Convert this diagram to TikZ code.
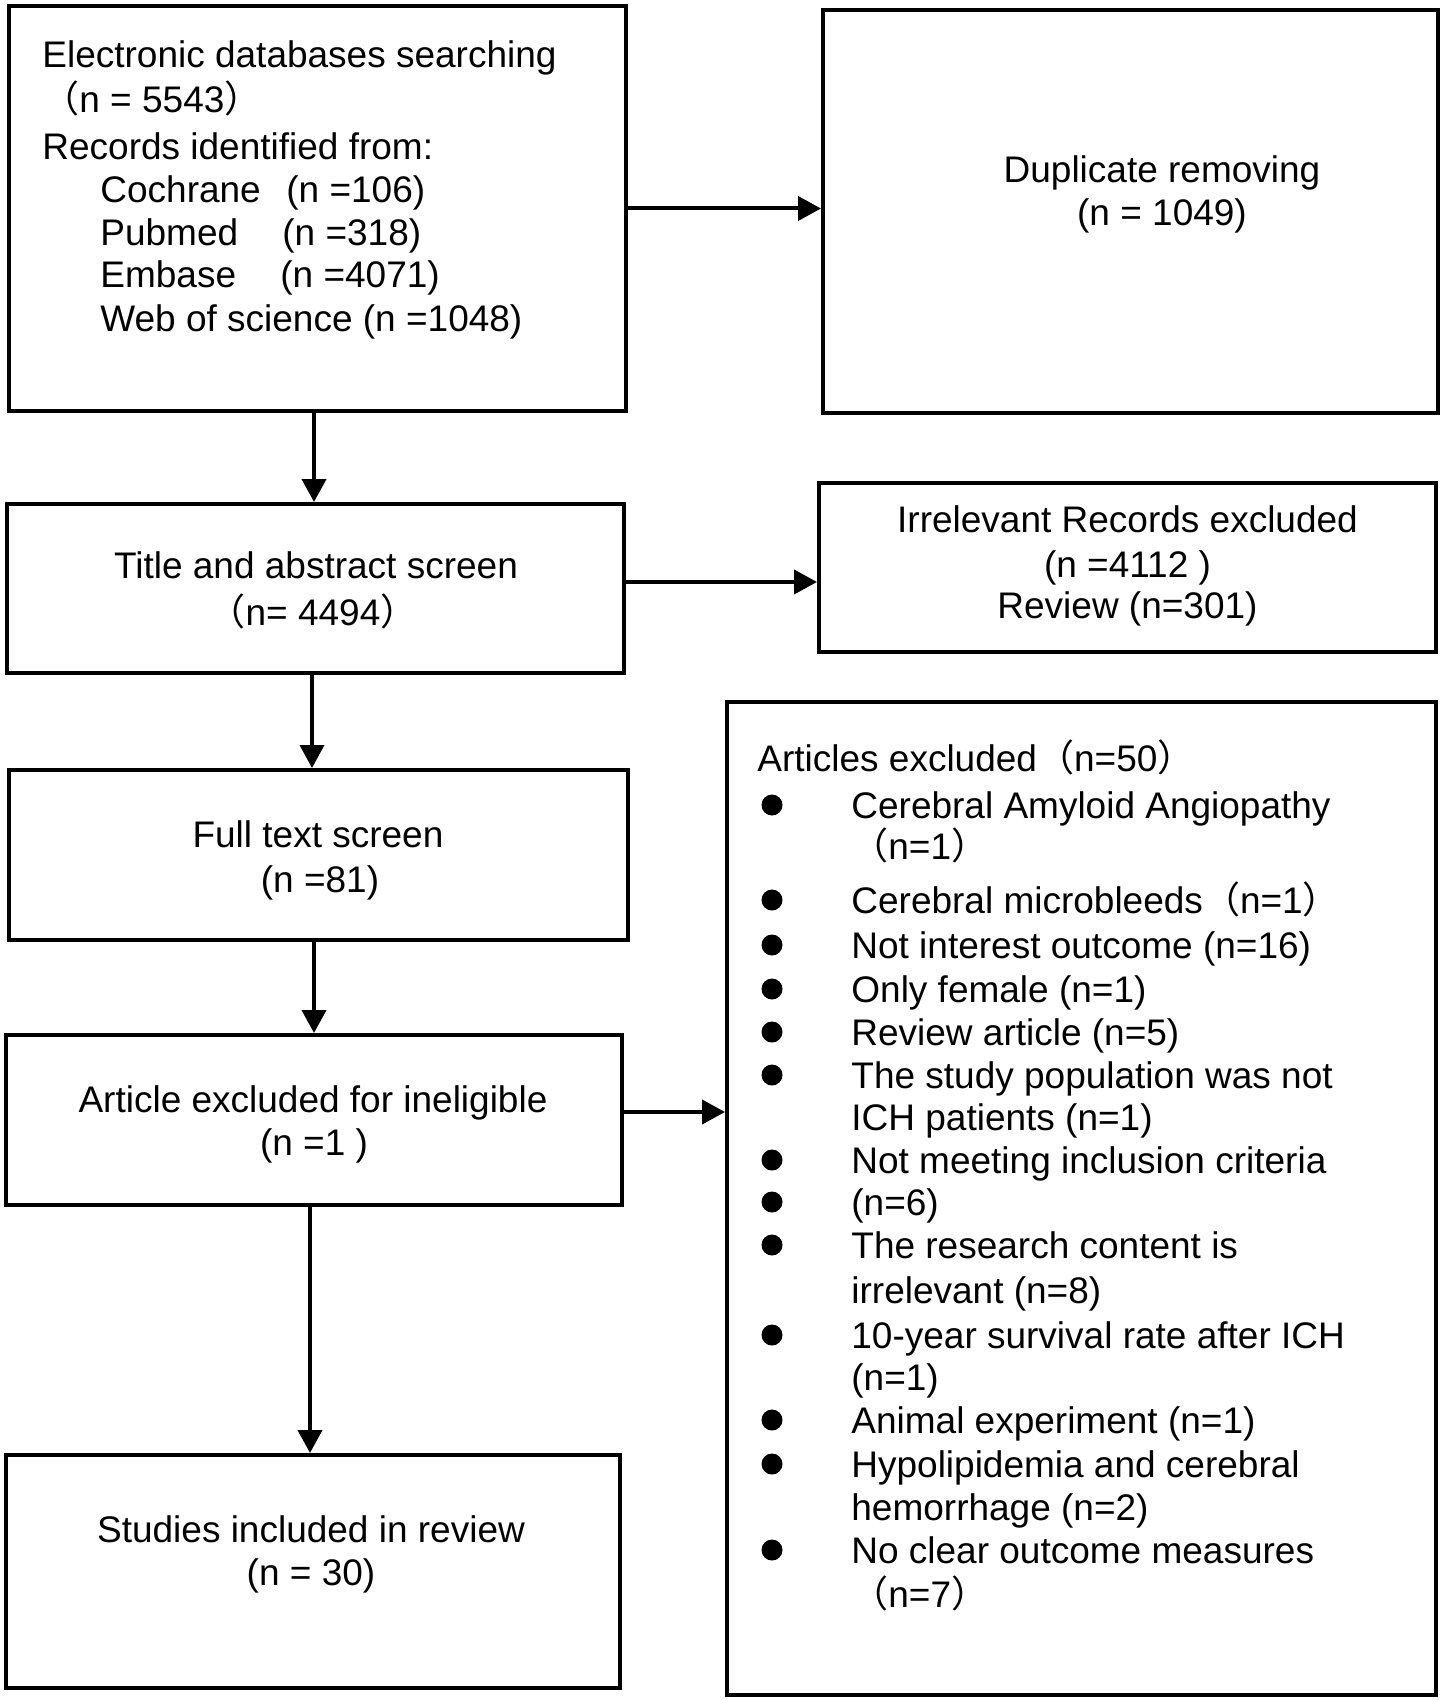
\documentclass[tikz,border=0pt]{standalone}
\usepackage{fontspec}
\setmainfont{Liberation Sans}
\newfontfamily\cjk{Noto Sans CJK SC}
\usetikzlibrary{arrows.meta}
\newcommand{\lp}{{\cjk （}}
\newcommand{\rp}{{\cjk ）}}
\begin{document}
\begin{tikzpicture}[x=0.5pt,y=-0.5pt,
  box/.style={draw,line width=2pt,inner sep=0pt},
  arr/.style={line width=2pt,-{Triangle[length=11.5pt,width=12pt]}},
  txt/.style={inner sep=0pt,font=\fontsize{18.5pt}{21.75pt}\selectfont},
  lt/.style={txt,anchor=base west},
  ct/.style={txt,anchor=base},
  bul/.style={fill=black}]
\useasboundingbox[fill=white] (0,0) rectangle (1446,1700);

% boxes
\node[box,minimum width=308.5pt,minimum height=202.5pt] (b1) at (317.5,208.5) {};
\node[box,minimum width=307.5pt,minimum height=201.5pt] (b2) at (1130.5,211.5) {};
\node[box,minimum width=308.5pt,minimum height=84.5pt] (b3) at (315.5,588.5) {};
\node[box,minimum width=308.5pt,minimum height=84.5pt] (b4) at (1127.5,567.5) {};
\node[box,minimum width=354.5pt,minimum height=496.5pt] (b5) at (1081.5,1198.5) {};
\node[box,minimum width=309.5pt,minimum height=85pt] (b6) at (318.5,855) {};
\node[box,minimum width=308pt,minimum height=85pt] (b7) at (314,1120) {};
\node[box,minimum width=307pt,minimum height=116.5pt] (b8) at (313,1571.5) {};

% connectors
\draw[arr] (b1.east) -- (b1.east -| b2.west);
\draw[arr] ([xshift=-1.75pt]b1.south) -- ([xshift=-1.75pt]b1.south |- b3.north);
\draw[arr] ([yshift=3.25pt]b3.east) -- ([yshift=3.25pt]b3.east -| b4.west);
\draw[arr] ([xshift=-1.75pt]b3.south) -- ([xshift=-1.75pt]b3.south |- b6.north);
\draw[arr] ([xshift=-2.25pt]b6.south) -- ([xshift=-2.25pt]b6.south |- b7.north);
\draw[arr] ([yshift=4pt]b7.east) -- ([yshift=4pt]b7.east -| b5.west);
\draw[arr] ([xshift=-2pt]b7.south) -- ([xshift=-2pt]b7.south |- b8.north);

% box 1 text
\node[lt] (t1a) at (42,68) {Electronic databases searching};
\node[lt] (t1b) at (42,113) {\lp n = 5543\rp};
\node[lt] (t1c) at (42,160) {Records identified from:};
\node[lt] (t1d) at (100,203) {\makebox[93pt][l]{Cochrane}(n =106)};
\node[lt] (t1e) at (100,246) {\makebox[91pt][l]{Pubmed}(n =318)};
\node[lt] (t1f) at (100,288) {\makebox[90pt][l]{Embase}(n =4071)};
\node[lt] (t1g) at (100,332) {Web of science (n =1048)};

% box 2 text
\node[ct] (t2a) at (1162,183) {Duplicate removing};
\node[ct] (t2b) at (1162,226) {(n = 1049)};

% box 3 text
\node[ct] (t3a) at (316,578) {Title and abstract screen};
\node[ct] (t3b) at (313,625) {\lp n= 4494\rp};

% box 4 text
\node[ct] (t4a) at (1127.5,532) {Irrelevant Records excluded};
\node[ct] (t4b) at (1127.5,577) {(n =4112 )};
\node[ct] (t4c) at (1127.5,618) {Review (n=301)};

% box 6 text
\node[ct] (t6a) at (318,847) {Full text screen};
\node[ct] (t6b) at (320,892) {(n =81)};

% box 7 text
\node[ct] (t7a) at (313,1112) {Article excluded for ineligible};
\node[ct] (t7b) at (314,1155) {(n =1 )};

% box 8 text
\node[ct] (t8a) at (311,1542) {Studies included in review};
\node[ct] (t8b) at (311,1585) {(n = 30)};

% box 5 text
\node[lt] (t5h) at (757,771) {Articles excluded\lp n=50\rp};
\node[lt] (l1) at (851,818) {Cerebral Amyloid Angiopathy};
\node[lt] (l1b) at (851,859) {\lp n=1\rp};
\node[lt] (l2) at (851,913) {Cerebral microbleeds\lp n=1\rp};
\node[lt] (l3) at (851,958) {Not interest outcome (n=16)};
\node[lt] (l4) at (851,1002) {Only female (n=1)};
\node[lt] (l5) at (851,1045) {Review article (n=5)};
\node[lt] (l6) at (851,1088) {The study population was not};
\node[lt] (l6b) at (851,1130) {ICH patients (n=1)};
\node[lt] (l7) at (851,1173) {Not meeting inclusion criteria};
\node[lt] (l8) at (851,1215) {(n=6)};
\node[lt] (l9) at (851,1258) {The research content is};
\node[lt] (l9b) at (851,1303) {irrelevant (n=8)};
\node[lt] (l10) at (851,1348) {10-year survival rate after ICH};
\node[lt] (l10b) at (851,1390) {(n=1)};
\node[lt] (l11) at (851,1433) {Animal experiment (n=1)};
\node[lt] (l12) at (851,1477) {Hypolipidemia and cerebral};
\node[lt] (l12b) at (851,1520) {hemorrhage (n=2)};
\node[lt] (l13) at (851,1563) {No clear outcome measures};
\node[lt] (l13b) at (851,1607) {\lp n=7\rp};

% bullets
\foreach \yy in {818,913,958,1002,1045,1088,1173,1215,1258,1348,1433,1477,1563}
  \fill[bul] (772,\yy-13) circle[radius=5.25pt];
\end{tikzpicture}
\end{document}
